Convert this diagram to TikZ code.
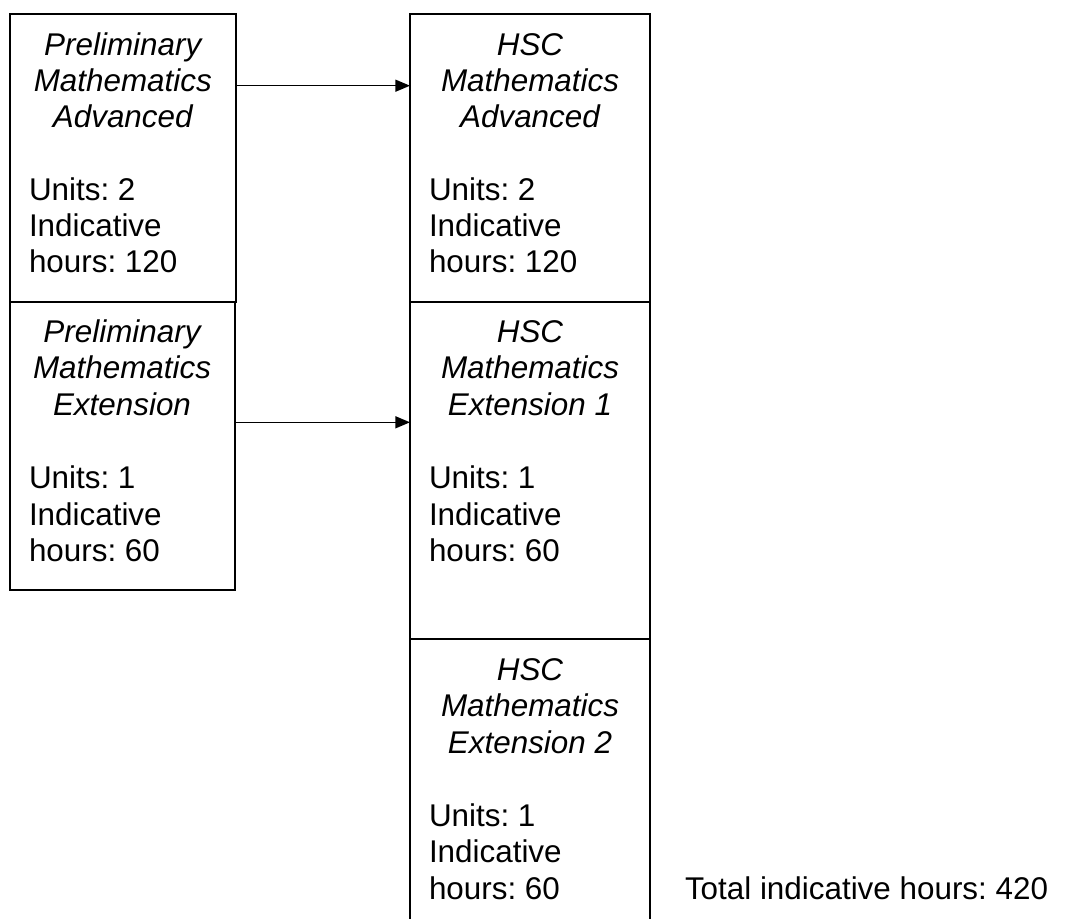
\documentclass[tikz,border=0pt]{standalone}
\usepackage{fontspec}
\setmainfont{Liberation Sans}
\usetikzlibrary{arrows.meta}
\begin{document}
\frenchspacing
\begin{tikzpicture}[x=0.75pt,y=-0.75pt,
  boxst/.style={draw, line width=1.5pt, inner sep=0pt, outer sep=0pt},
  txt/.style={inner sep=0pt, outer sep=0pt},
  ttl/.style={txt, anchor=base, font=\fontsize{23.55}{27.4}\selectfont\itshape},
  det/.style={txt, anchor=base west, font=\fontsize{23.55}{27.4}\selectfont},
  arr/.style={line width=1.1pt, -{Triangle[length=11pt,width=9pt]}}]
\useasboundingbox (0,0) rectangle (1067,918);
\newcommand\mybox[5]{\node[boxst, minimum width={(#4-#2)*0.75pt}, minimum height={(#5-#3)*0.75pt}] (#1) at ({(#2+#4)/2},{(#3+#5)/2}) {};}
% boxes
\mybox{L1}{9.5}{13.5}{236}{301.5}
\mybox{L2}{9.5}{301.5}{234.5}{589.5}
\mybox{R1}{410}{13.5}{650}{301.5}
\mybox{R2}{410}{301.5}{650}{638.5}
\mybox{R3}{410}{638.5}{650}{940}
% left box 1
\foreach \t [count=\i] in {Preliminary,Mathematics,Advanced}
  \node[ttl] (l1t\i) at (122.75,{55+(\i-1)*36.3}) {\t};
\foreach \t [count=\i] in {Units: 2,Indicative,hours: 120}
  \node[det] (l1d\i) at (29,{200.2+(\i-1)*36.3}) {\t};
% left box 2
\foreach \t [count=\i] in {Preliminary,Mathematics,Extension}
  \node[ttl] (l2t\i) at (122,{342+(\i-1)*36.6}) {\t};
\foreach \t [count=\i] in {Units: 1,Indicative,hours: 60}
  \node[det] (l2d\i) at (29,{488.4+(\i-1)*36.6}) {\t};
% right box 1
\foreach \t [count=\i] in {HSC,Mathematics,Advanced}
  \node[ttl] (r1t\i) at (530,{55+(\i-1)*36.3}) {\t};
\foreach \t [count=\i] in {Units: 2,Indicative,hours: 120}
  \node[det] (r1d\i) at (429,{200.2+(\i-1)*36.3}) {\t};
% right box 2
\foreach \t [count=\i] in {HSC,Mathematics,Extension 1}
  \node[ttl] (r2t\i) at (530,{342+(\i-1)*36.6}) {\t};
\foreach \t [count=\i] in {Units: 1,Indicative,hours: 60}
  \node[det] (r2d\i) at (429,{488.4+(\i-1)*36.6}) {\t};
% right box 3
\foreach \t [count=\i] in {HSC,Mathematics,Extension 2}
  \node[ttl] (r3t\i) at (530,{680+(\i-1)*36.5}) {\t};
\foreach \t [count=\i] in {Units: 1,Indicative,hours: 60}
  \node[det] (r3d\i) at (429,{826+(\i-1)*36.5}) {\t};
% total
\node[det] (total) at (685,899) {Total indicative hours: 420};
% arrows
\coordinate (a1) at (0,85.7);
\coordinate (a2) at (0,422.3);
\draw[arr] (L1.east |- a1) -- (R1.west |- a1);
\draw[arr] (L2.east |- a2) -- (R2.west |- a2);
\end{tikzpicture}
\end{document}
